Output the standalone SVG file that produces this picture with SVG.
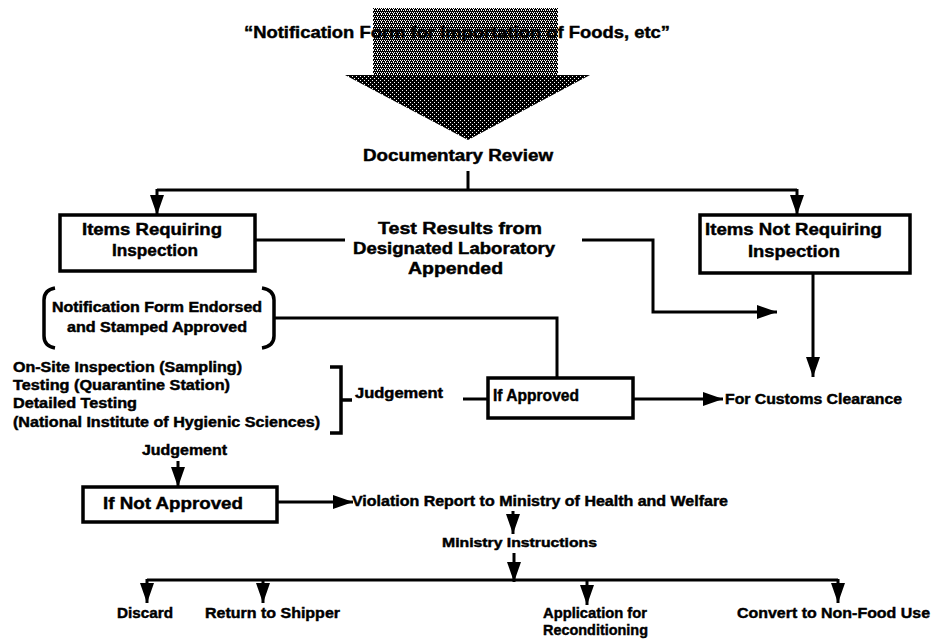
<svg xmlns="http://www.w3.org/2000/svg" width="937" height="639" viewBox="0 0 937 639">
<style>
text{font-family:"Liberation Sans",Arial,sans-serif;font-weight:bold;fill:#000;stroke:#000;stroke-width:0.45}
.box{fill:#fff;stroke:#000;stroke-width:3.5}
.ln{fill:none;stroke:#000;stroke-width:3}
.br{fill:none;stroke:#000;stroke-width:3.5}
.s17{font-size:17px}.s16{font-size:16px}.s15{font-size:15px}.s14{font-size:14px}.s13{font-size:13px}
</style>
<defs>
<marker id="ah" viewBox="0 0 20 14" refX="20" refY="7" markerWidth="20" markerHeight="14" markerUnits="userSpaceOnUse" orient="auto">
<path d="M0,0 L20,7 L0,14 Z" fill="#000"/>
</marker>
<pattern id="d60" width="4" height="4" patternUnits="userSpaceOnUse">
<rect width="4" height="4" fill="#000"/>
<rect x="0" y="0" width="1" height="1" fill="#fff"/>
<rect x="2" y="0" width="1" height="1" fill="#fff"/>
<rect x="1" y="2" width="1" height="1" fill="#fff"/>
<rect x="3" y="2" width="1" height="1" fill="#fff"/>
<rect x="1" y="1" width="1" height="1" fill="#fff"/>
</pattern>
<pattern id="d80" width="4" height="4" patternUnits="userSpaceOnUse">
<rect width="4" height="4" fill="#000"/>
<rect x="0" y="0" width="1" height="1" fill="#fff"/>
<rect x="2" y="2" width="1" height="1" fill="#fff"/>
</pattern>
</defs>

<g id="bigArrow">
<polygon points="345,75 590,75 468,140" fill="url(#d80)"/>
<rect x="373" y="8" width="185" height="68" fill="url(#d60)"/>
</g>
<g id="title">
<text class="s17" x="244" y="38" textLength="426" lengthAdjust="spacingAndGlyphs">“Notification Form for Importation of Foods, etc”</text>
</g>

<g id="connectors">
<path class="ln" d="M468,171 V190"/>
<path class="ln" d="M157,190 H797"/>
<path class="ln" d="M157,189 V215" marker-end="url(#ah)"/>
<path class="ln" d="M797,189 V215" marker-end="url(#ah)"/>
<path class="ln" d="M255,240 H345"/>
<path class="ln" d="M582,240 H653 V312 H777" marker-end="url(#ah)"/>
<path class="ln" d="M813,273 V377" marker-end="url(#ah)"/>
<path class="ln" d="M275,318 H557 V378"/>
<path class="ln" d="M463,399 H488"/>
<path class="ln" d="M633,399 H723" marker-end="url(#ah)"/>
<path class="ln" d="M178,461 V487" marker-end="url(#ah)"/>
<path class="ln" d="M277,502 H353" marker-end="url(#ah)"/>
<path class="ln" d="M513,511 V534" marker-end="url(#ah)"/>
<path class="ln" d="M514,553 V582" marker-end="url(#ah)"/>
<path class="ln" d="M147,580 H838"/>
<path class="ln" d="M147,579 V603" marker-end="url(#ah)"/>
<path class="ln" d="M263,579 V603" marker-end="url(#ah)"/>
<path class="ln" d="M587,579 V605" marker-end="url(#ah)"/>
<path class="ln" d="M838,579 V603" marker-end="url(#ah)"/>
</g>

<g id="documentaryReview">
<text class="s16" x="363" y="161" textLength="190" lengthAdjust="spacingAndGlyphs">Documentary Review</text>
</g>

<g id="itemsRequiring">
<rect class="box" x="60" y="215" width="195" height="56"/>
<text class="s17" x="82" y="235" textLength="140" lengthAdjust="spacingAndGlyphs">Items Requiring</text>
<text class="s17" x="112" y="256" textLength="86" lengthAdjust="spacingAndGlyphs">Inspection</text>
</g>

<g id="testResults">
<text class="s16" x="378" y="234" textLength="164" lengthAdjust="spacingAndGlyphs">Test Results from</text>
<text class="s16" x="353" y="254" textLength="202" lengthAdjust="spacingAndGlyphs">Designated Laboratory</text>
<text class="s16" x="408" y="274" textLength="95" lengthAdjust="spacingAndGlyphs">Appended</text>
</g>

<g id="itemsNotRequiring">
<rect class="box" x="700" y="215" width="210" height="58"/>
<text class="s17" x="705" y="235" textLength="177" lengthAdjust="spacingAndGlyphs">Items Not Requiring</text>
<text class="s17" x="748" y="257" textLength="92" lengthAdjust="spacingAndGlyphs">Inspection</text>
</g>

<g id="notificationEndorsed">
<path class="br" d="M55,288 Q44,290 44,300 V336 Q44,346 55,348"/>
<path class="br" d="M262,288 Q274,290 274,300 V336 Q274,346 262,348"/>
<text class="s14" x="52" y="312" textLength="210" lengthAdjust="spacingAndGlyphs">Notification Form Endorsed</text>
<text class="s14" x="67" y="332" textLength="180" lengthAdjust="spacingAndGlyphs">and Stamped Approved</text>
</g>

<g id="inspections">
<text class="s14" x="13" y="372" textLength="229" lengthAdjust="spacingAndGlyphs">On-Site Inspection (Sampling)</text>
<text class="s14" x="13" y="390" textLength="217" lengthAdjust="spacingAndGlyphs">Testing (Quarantine Station)</text>
<text class="s14" x="13" y="408" textLength="124" lengthAdjust="spacingAndGlyphs">Detailed Testing</text>
<text class="s14" x="13" y="427" textLength="307" lengthAdjust="spacingAndGlyphs">(National Institute of Hygienic Sciences)</text>
<path class="br" d="M330,367 H341 V433 H330 M341,400 H352"/>
</g>

<g id="judgement1">
<text class="s14" x="355" y="398" textLength="88" lengthAdjust="spacingAndGlyphs">Judgement</text>
</g>

<g id="ifApproved">
<rect class="box" x="488" y="378" width="145" height="40"/>
<text class="s17" x="493" y="401" textLength="86" lengthAdjust="spacingAndGlyphs">If Approved</text>
</g>

<g id="customsClearance">
<text class="s14" x="725" y="404" textLength="177" lengthAdjust="spacingAndGlyphs">For Customs Clearance</text>
</g>

<g id="judgement2">
<text class="s14" x="142" y="455" textLength="85" lengthAdjust="spacingAndGlyphs">Judgement</text>
</g>

<g id="ifNotApproved">
<rect class="box" x="83" y="487" width="194" height="35"/>
<text class="s17" x="103" y="509" textLength="140" lengthAdjust="spacingAndGlyphs">If Not Approved</text>
</g>

<g id="violationReport">
<text class="s14" x="352" y="506" textLength="376" lengthAdjust="spacingAndGlyphs">Violation Report to Ministry of Health and Welfare</text>
</g>

<g id="ministryInstructions">
<text class="s13" x="442" y="547" textLength="155" lengthAdjust="spacingAndGlyphs">Ministry Instructions</text>
</g>

<g id="discard">
<text class="s15" x="117" y="618" textLength="56" lengthAdjust="spacingAndGlyphs">Discard</text>
</g>
<g id="returnToShipper">
<text class="s15" x="205" y="618" textLength="135" lengthAdjust="spacingAndGlyphs">Return to Shipper</text>
</g>
<g id="reconditioning">
<text class="s15" x="543" y="618" textLength="104" lengthAdjust="spacingAndGlyphs">Application for</text>
<text class="s15" x="543" y="635" textLength="105" lengthAdjust="spacingAndGlyphs">Reconditioning</text>
</g>
<g id="nonFoodUse">
<text class="s15" x="737" y="618" textLength="193" lengthAdjust="spacingAndGlyphs">Convert to Non-Food Use</text>
</g>
</svg>
